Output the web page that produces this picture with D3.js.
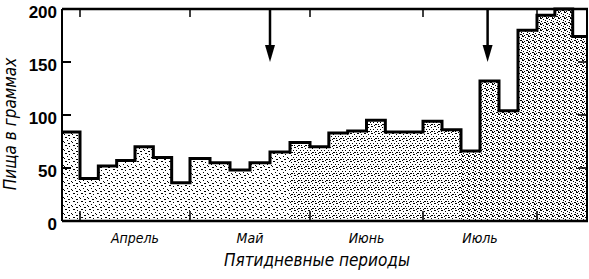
<!DOCTYPE html>
<html>
<head>
<meta charset="utf-8">
<script src="https://cdn.jsdelivr.net/npm/d3@7"></script>
<style>
  body { margin: 0; background: #fff; }
  text { fill: #000; }
</style>
</head>
<body>
<div id="chart"></div>
<script>
// food (grams) per five-day period, last period of March through mid August
var food = [84,
            40, 52, 57, 70, 60, 36,      // April
            59, 55, 48, 55, 65, 74,      // May
            70, 83, 85, 95, 84, 84,      // June
            94, 86, 66, 132, 104, 180,   // July
            194, 200, 174];              // August
var months = ["Апрель", "Май", "Июнь", "Июль"];
var monthStart = [1, 7, 13, 19, 25];    // period index where a month begins
var yTicks = [0, 50, 100, 150, 200];
var arrowAt = [11, 22.4];               // period positions of the two arrows

var width = 589, height = 279;
var lastEdge = 27.8;                    // frame cuts the last period

var svg = d3.select("#chart").append("svg")
    .attr("width", width)
    .attr("height", height);

// hand drawn month widths, so map period index piecewise
var x = d3.scaleLinear()
    .domain([0, 1, 7, 13, 19, 25, lastEdge])
    .range([62, 80, 190, 310, 423, 537, 587]);

var y = d3.scaleLinear()
    .domain([0, 200])
    .range([221, 9]);

// stipple textures, denser toward summer
var defs = svg.append("defs");
function stipple(id, size, dots) {
    var p = defs.append("pattern")
        .attr("id", id)
        .attr("patternUnits", "userSpaceOnUse")
        .attr("width", size).attr("height", size);
    p.append("rect").attr("width", size).attr("height", size).attr("fill", "#fff");
    dots.forEach(function(d) {
        p.append("rect").attr("x", d[0]).attr("y", d[1])
            .attr("width", d[2] || 1).attr("height", 1).attr("fill", "#000");
    });
}
stipple("dotLight", 8, [[1,1,2],[5,2],[3,4],[7,5],[0,6],[4,7,2]]);
stipple("dotMid", 7, [[0,0,2],[4,1],[2,3],[6,3],[0,5],[4,5,2],[3,6]]);
stipple("dotDense", 6, [[0,0,2],[3,1],[5,2],[1,3],[4,4,2],[2,5],[0,5]]);

svg.append("g")
    .selectAll("rect")
    .data(food)
    .enter().append("rect")
    .attr("x", function(d, i) { return x(i); })
    .attr("width", function(d, i) { return x(Math.min(i + 1, lastEdge)) - x(i); })
    .attr("y", function(d) { return y(d); })
    .attr("height", function(d) { return y(0) - y(d); })
    .attr("fill", function(d, i) {
        return i < 12 ? "url(#dotLight)" : (i < 21 ? "url(#dotMid)" : "url(#dotDense)");
    });

// heavy step outline on top of the bars
var pts = food.map(function(d, i) { return [i, d]; });
pts.push([lastEdge, food[food.length - 1]]);
svg.append("path")
    .datum(pts)
    .attr("fill", "none")
    .attr("stroke", "#000")
    .attr("stroke-width", 3)
    .attr("d", d3.line()
        .x(function(d) { return x(d[0]); })
        .y(function(d) { return y(d[1]); })
        .curve(d3.curveStepAfter));

// frame
var frame = svg.append("g").attr("stroke", "#000").attr("fill", "none");
frame.append("line").attr("x1", x(0)).attr("x2", x(lastEdge) + 1)
    .attr("y1", y(200)).attr("y2", y(200)).attr("stroke-width", 2.5);
frame.append("line").attr("x1", x(0)).attr("x2", x(lastEdge) + 1)
    .attr("y1", y(0)).attr("y2", y(0)).attr("stroke-width", 2.5);
frame.append("line").attr("x1", x(0)).attr("x2", x(0))
    .attr("y1", y(200)).attr("y2", y(0)).attr("stroke-width", 2);
frame.append("line").attr("x1", x(lastEdge)).attr("x2", x(lastEdge))
    .attr("y1", y(200)).attr("y2", y(0)).attr("stroke-width", 2);

// inward ticks on all sides
var inner = yTicks.slice(1, 4);
frame.selectAll(".tl").data(inner).enter().append("line")
    .attr("x1", x(0)).attr("x2", x(0) + 9)
    .attr("y1", y).attr("y2", y).attr("stroke-width", 2);
frame.selectAll(".tr").data(inner).enter().append("line")
    .attr("x1", x(lastEdge)).attr("x2", x(lastEdge) - 9)
    .attr("y1", y).attr("y2", y).attr("stroke-width", 1.5);
frame.selectAll(".tb").data(monthStart).enter().append("line")
    .attr("x1", x).attr("x2", x)
    .attr("y1", y(0)).attr("y2", y(0) - 10).attr("stroke-width", 1.5);
frame.selectAll(".tt").data(monthStart).enter().append("line")
    .attr("x1", x).attr("x2", x)
    .attr("y1", y(200)).attr("y2", y(200) + 8).attr("stroke-width", 1.5);

// y labels
svg.append("g").selectAll("text")
    .data(yTicks)
    .enter().append("text")
    .attr("x", 57)
    .attr("y", function(d) { return y(d) + 3; })
    .attr("dy", "0.35em")
    .attr("text-anchor", "end")
    .style("font", "bold 17px 'Liberation Sans', sans-serif")
    .text(function(d) { return d; });

// month labels centred on their six periods
svg.append("g").selectAll("text")
    .data(months)
    .enter().append("text")
    .attr("x", function(d, i) { return (x(monthStart[i]) + x(monthStart[i + 1])) / 2; })
    .attr("y", 243)
    .attr("text-anchor", "middle")
    .style("font", "italic 14px 'DejaVu Sans Condensed', 'Liberation Sans Narrow', sans-serif")
    .text(function(d) { return d; });

// axis titles
svg.append("text")
    .attr("x", 317).attr("y", 266)
    .attr("text-anchor", "middle")
    .style("font", "italic 17px 'DejaVu Sans Condensed', 'Liberation Sans Narrow', sans-serif")
    .text("Пятидневные периоды");

svg.append("text")
    .attr("transform", "translate(16,124) rotate(-90)")
    .attr("text-anchor", "middle")
    .style("font", "italic 17px 'DejaVu Sans Condensed', 'Liberation Sans Narrow', sans-serif")
    .text("Пища в граммах");

// arrows marking the two events
var arr = svg.append("g").selectAll("g").data(arrowAt).enter().append("g");
arr.append("line")
    .attr("x1", x).attr("x2", x)
    .attr("y1", y(200)).attr("y2", y(158))
    .attr("stroke", "#000").attr("stroke-width", 2.5);
arr.append("path")
    .attr("d", function(d) {
        var cx = x(d), tip = y(150);
        return "M" + (cx - 5) + "," + (tip - 17) + "L" + (cx + 5) + "," + (tip - 17) + "L" + cx + "," + tip + "Z";
    })
    .attr("fill", "#000");
</script>
</body>
</html>
